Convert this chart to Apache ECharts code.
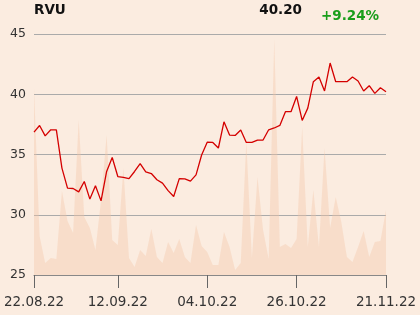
<!DOCTYPE html>
<html>
<head>
<meta charset="utf-8">
<script src="https://cdn.jsdelivr.net/npm/echarts@6/dist/echarts.min.js"></script>
<style>
html,body{margin:0;padding:0;background:#fbece0;}
#c{width:420px;height:315px;}
</style>
</head>
<body>
<div id="c"></div>
<script>
var dates = ["22.08.22","23.08.22","24.08.22","25.08.22","26.08.22","29.08.22","30.08.22","31.08.22","01.09.22","02.09.22",
"05.09.22","06.09.22","07.09.22","08.09.22","09.09.22","12.09.22","13.09.22","14.09.22","15.09.22","16.09.22",
"19.09.22","20.09.22","21.09.22","22.09.22","23.09.22","26.09.22","27.09.22","28.09.22","29.09.22","30.09.22",
"03.10.22","04.10.22","05.10.22","06.10.22","07.10.22","10.10.22","11.10.22","12.10.22","13.10.22","14.10.22",
"17.10.22","18.10.22","19.10.22","20.10.22","21.10.22","24.10.22","25.10.22","26.10.22","27.10.22","28.10.22",
"02.11.22","03.11.22","04.11.22","07.11.22","08.11.22","09.11.22","10.11.22","11.11.22","14.11.22","15.11.22",
"16.11.22","17.11.22","18.11.22","21.11.22"];
var tickLabels = ["22.08.22","12.09.22","04.10.22","26.10.22","21.11.22"];
var prices = [36.86,37.41,36.55,37.05,37.05,33.87,32.21,32.18,31.90,32.76,
31.30,32.40,31.15,33.59,34.75,33.17,33.10,33.00,33.59,34.25,
33.56,33.42,32.90,32.62,32.00,31.51,33.00,32.98,32.79,33.31,
34.96,36.02,36.00,35.54,37.71,36.61,36.58,37.03,36.00,36.00,
36.20,36.20,37.05,37.20,37.41,38.55,38.55,39.82,37.83,38.85,
41.04,41.43,40.27,42.59,41.04,41.04,41.04,41.43,41.10,40.27,
40.71,40.07,40.54,40.20];
var volumes = [187,39,12,17,16,84,54,42,155,58,
47,25,75,140,35,30,107,17,8,25,
19,46,18,12,33,22,36,18,12,50,
29,23,10,10,43,28,5,12,133,17,
98,45,16,236,28,31,27,36,148,28,
85,28,127,47,78,53,18,13,28,44,
18,33,34,65];
var lastPrice = "40.20";
var change = "+9.24%";
var ticker = "RVU";

var chart = echarts.init(document.getElementById('c'), null, {renderer:'canvas'});
function showTick(i){ return tickLabels.indexOf(dates[i]) >= 0; }
chart.setOption({
  backgroundColor:'#fbece0',
  animation:false,
  grid:{left:34,right:34,top:34,bottom:40},
  graphic:[
    {type:'text',left:34,top:3,style:{text:ticker,font:'bold 13.5px "DejaVu Sans"',fill:'#111'}},
    {type:'text',x:302,y:10,style:{text:lastPrice,font:'bold 13.5px "DejaVu Sans"',fill:'#111',textAlign:'right',textVerticalAlign:'middle'}},
    {type:'text',x:321,y:16,style:{text:change,font:'bold 13.5px "DejaVu Sans"',fill:'#1a9e1a',textAlign:'left',textVerticalAlign:'middle'}}
  ],
  xAxis:{
    type:'category',data:dates,boundaryGap:false,
    axisLine:{lineStyle:{color:'#888',width:1.2}},
    axisTick:{interval:function(i){return showTick(i);},length:13,lineStyle:{color:'#666'}},
    axisLabel:{interval:function(i){return showTick(i);},margin:20,fontSize:13.5,fontFamily:'DejaVu Sans',color:'#333',showMaxLabel:true,showMinLabel:true},
    splitLine:{show:false}
  },
  yAxis:[
    {type:'value',min:25,max:45,interval:5,
     axisLine:{show:false},axisTick:{show:false},
     axisLabel:{margin:8,fontSize:12.5,fontFamily:'DejaVu Sans',color:'#333'},
     splitLine:{lineStyle:{color:'#aaaaaa',width:1}}},
    {type:'value',min:0,max:241,show:false,splitLine:{show:false}}
  ],
  series:[
    {type:'line',yAxisIndex:1,data:volumes,symbol:'none',silent:true,
     lineStyle:{width:0},areaStyle:{color:'rgba(245,199,167,0.55)'},z:1},
    {type:'line',yAxisIndex:0,data:prices,symbol:'none',
     lineStyle:{color:'#d40000',width:1.3},z:3}
  ]
});
</script>
</body>
</html>
